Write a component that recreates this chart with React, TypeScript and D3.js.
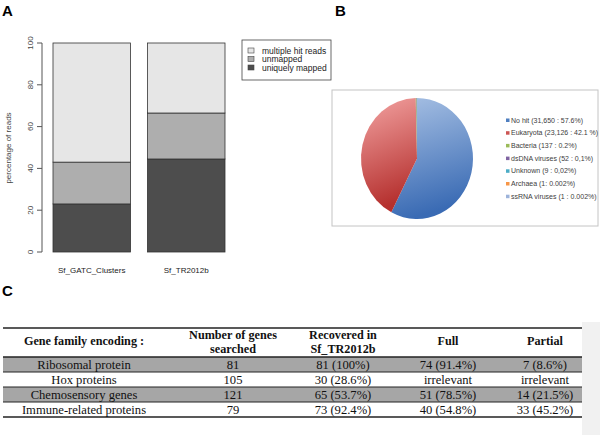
import React from 'react';
import * as d3 from 'd3';

// panel A: mapping of reads (percent)
const categories = ['Sf_GATC_Clusters', 'Sf_TR2012b'];
const uniquelyMapped = [23, 44.5];
const unmapped = [20, 22];
const multipleHit = [57, 33.5];
const yTicks = [0, 20, 40, 60, 80, 100];
const barKeys = ['uniquely mapped', 'unmapped', 'multiple hit reads'];
const barColors = ['#4d4d4d', '#aeaeae', '#e6e6e6'];

// panel B: blast hits
const pieLabels = [
  'No hit (31,650 : 57.6%)',
  'Eukaryota (23,126 : 42.1 %)',
  'Bacteria (137 : 0.2%)',
  'dsDNA viruses (52 : 0,1%)',
  'Unknown (9 : 0,02%)',
  'Archaea (1: 0.002%)',
  'ssRNA viruses (1 : 0.002%)',
];
const pieValues = [31650, 23126, 137, 52, 9, 1, 1];
const pieColors = ['#4f7fc0', '#cc5553', '#9bbb59', '#8064a2', '#4bacc6', '#f79646', '#9db3da'];

// panel C: table
const tableHeaders = [
  ['Gene family encoding :'],
  ['Number of genes', 'searched'],
  ['Recovered in', 'Sf_TR2012b'],
  ['Full'],
  ['Partial'],
];
const geneFamilies = ['Ribosomal protein', 'Hox proteins', 'Chemosensory genes', 'Immune-related proteins'];
const genesSearched = ['81', '105', '121', '79'];
const recovered = ['81 (100%)', '30 (28.6%)', '65 (53.7%)', '73 (92.4%)'];
const fullCol = ['74 (91.4%)', 'irrelevant', '51 (78.5%)', '40 (54.8%)'];
const partialCol = ['7 (8.6%)', 'irrelevant', '14 (21.5%)', '33 (45.2%)'];

const sans = 'Liberation Sans, Arial, sans-serif';
const serif = 'Liberation Serif, Times New Roman, serif';

const BarPanel = () => {
  const y = d3.scaleLinear().domain([0, 100]).range([252, 43]);
  const x = d3.scaleBand<string>().domain(categories).range([53, 225]).paddingInner(0.18);
  const rows = categories.map((c, i) => ({
    cat: c,
    'uniquely mapped': uniquelyMapped[i],
    unmapped: unmapped[i],
    'multiple hit reads': multipleHit[i],
  }));
  const series = d3.stack<any>().keys(barKeys)(rows);
  const legendOrder = [2, 1, 0];
  return (
    <g>
      <text x={2} y={16} fontFamily={sans} fontWeight="bold" fontSize={15}>A</text>
      <line x1={42} x2={42} y1={y(0)} y2={y(100)} stroke="#555" />
      {yTicks.map(t => (
        <g key={t}>
          <line x1={37} x2={42} y1={y(t)} y2={y(t)} stroke="#555" />
          <text transform={`translate(33,${y(t)}) rotate(-90)`} textAnchor="middle"
                fontFamily={sans} fontSize={8} fill="#444">{t}</text>
        </g>
      ))}
      <text transform="translate(11,148) rotate(-90)" textAnchor="middle" fontFamily={sans}
            fontSize={8} fill="#444">percentage of reads</text>
      {series.map((s, k) => s.map((d, i) => (
        <rect key={`${k}-${i}`} x={x(categories[i])} width={x.bandwidth()}
              y={y(d[1])} height={y(d[0]) - y(d[1])} fill={barColors[k]} stroke="#333" strokeWidth={0.8} />
      )))}
      {categories.map(c => (
        <text key={c} x={(x(c) || 0) + x.bandwidth() / 2} y={273} textAnchor="middle"
              fontFamily={sans} fontSize={8} fill="#222">{c}</text>
      ))}
      <rect x={242} y={40} width={89} height={40} fill="#fff" stroke="#444" strokeWidth={0.8} />
      {legendOrder.map((k, j) => (
        <g key={k} transform={`translate(248,${51 + j * 8.5})`}>
          <rect x={0} y={-3} width={6} height={5} fill={barColors[k]} stroke="#444" strokeWidth={0.6} />
          <text x={14} y={2.5} fontFamily={sans} fontSize={8.5} fill="#222">{barKeys[k]}</text>
        </g>
      ))}
    </g>
  );
};

const PiePanel = () => {
  const pie = d3.pie<number>().sort(null).value(d => d)(pieValues);
  const arc = d3.arc<d3.PieArcDatum<number>>().innerRadius(0).outerRadius(60.5);
  const cx = 417, cy = 158.5;
  return (
    <g>
      <text x={335} y={16} fontFamily={sans} fontWeight="bold" fontSize={15}>B</text>
      <defs>
        <linearGradient id="gBlue" x1="0" y1="0" x2="0.2" y2="1">
          <stop offset="0%" stopColor="#a8c1e4" />
          <stop offset="100%" stopColor="#3a6bb4" />
        </linearGradient>
        <linearGradient id="gRed" x1="0" y1="0" x2="0.2" y2="1">
          <stop offset="0%" stopColor="#f3a3a2" />
          <stop offset="100%" stopColor="#b5302e" />
        </linearGradient>
      </defs>
      <rect x={332} y={90} width={266} height={136} fill="#fff" stroke="#c4c4c4" strokeWidth={1} />
      <g transform={`translate(${cx},${cy}) scale(${56 / 60.5},1)`}>
        {pie.map((p, i) => (
          <path key={i} d={arc(p) || ''}
                fill={i === 0 ? 'url(#gBlue)' : i === 1 ? 'url(#gRed)' : pieColors[i]} />
        ))}
      </g>
      {pieLabels.map((l, i) => (
        <g key={l} transform={`translate(506,${122 + i * 12.7})`}>
          <rect x={0} y={-3.5} width={3.5} height={3.5} fill={pieColors[i]} />
          <text x={5} y={0.6} fontFamily={sans} fontSize={7} fill="#404040">{l}</text>
        </g>
      ))}
    </g>
  );
};

const TablePanel = () => {
  const colKeys = ['fam', 'n', 'rec', 'full', 'partial'];
  const colX = d3.scaleOrdinal<string, number>().domain(colKeys).range([84, 233, 343, 448, 545]);
  const rowY = d3.scaleBand<string>().domain(geneFamilies).range([357, 417]);
  const cols = [geneFamilies, genesSearched, recovered, fullCol, partialCol];
  const left = 3, right = 582;
  return (
    <g>
      <text x={2} y={296} fontFamily={sans} fontWeight="bold" fontSize={15}>C</text>
      <rect x={582} y={322} width={18} height={113} fill="#f1f1f1" />
      {geneFamilies.map((g, i) => i % 2 === 0 ? (
        <rect key={g} x={left} y={rowY(g)} width={right - left} height={rowY.bandwidth()} fill="#a6a6a6" />
      ) : null)}
      {tableHeaders.map((h, c) => h.map((t, j) => (
        <text key={`${c}-${j}`} x={colX(colKeys[c])} textAnchor="middle"
              y={h.length === 1 ? 345 : 339 + j * 13.5}
              fontFamily={serif} fontWeight="bold" fontSize={12.2} fill="#111">{t}</text>
      )))}
      <line x1={left} x2={right} y1={328} y2={328} stroke="#222" strokeWidth={1.5} />
      {[...geneFamilies.map(g => rowY(g) || 0), 417].map((yy, i) => (
        <line key={i} x1={left} x2={right} y1={yy} y2={yy} stroke="#222"
              strokeWidth={i === 0 || i === 4 ? 1.6 : 1} />
      ))}
      {cols.map((col, c) => col.map((v, r) => (
        <text key={`${c}-${r}`} x={colX(colKeys[c])} y={(rowY(geneFamilies[r]) || 0) + rowY.bandwidth() / 2 + 4.3}
              textAnchor="middle" fontFamily={serif} fontSize={12.6} fill="#111">{v}</text>
      )))}
    </g>
  );
};

export default function App() {
  return (
    <svg width={600} height={435} viewBox="0 0 600 435"
         style={{ position: 'absolute', left: 0, top: 0, background: '#fff' }}>
      <rect width={600} height={435} fill="#fff" />
      <BarPanel />
      <PiePanel />
      <TablePanel />
    </svg>
  );
}
